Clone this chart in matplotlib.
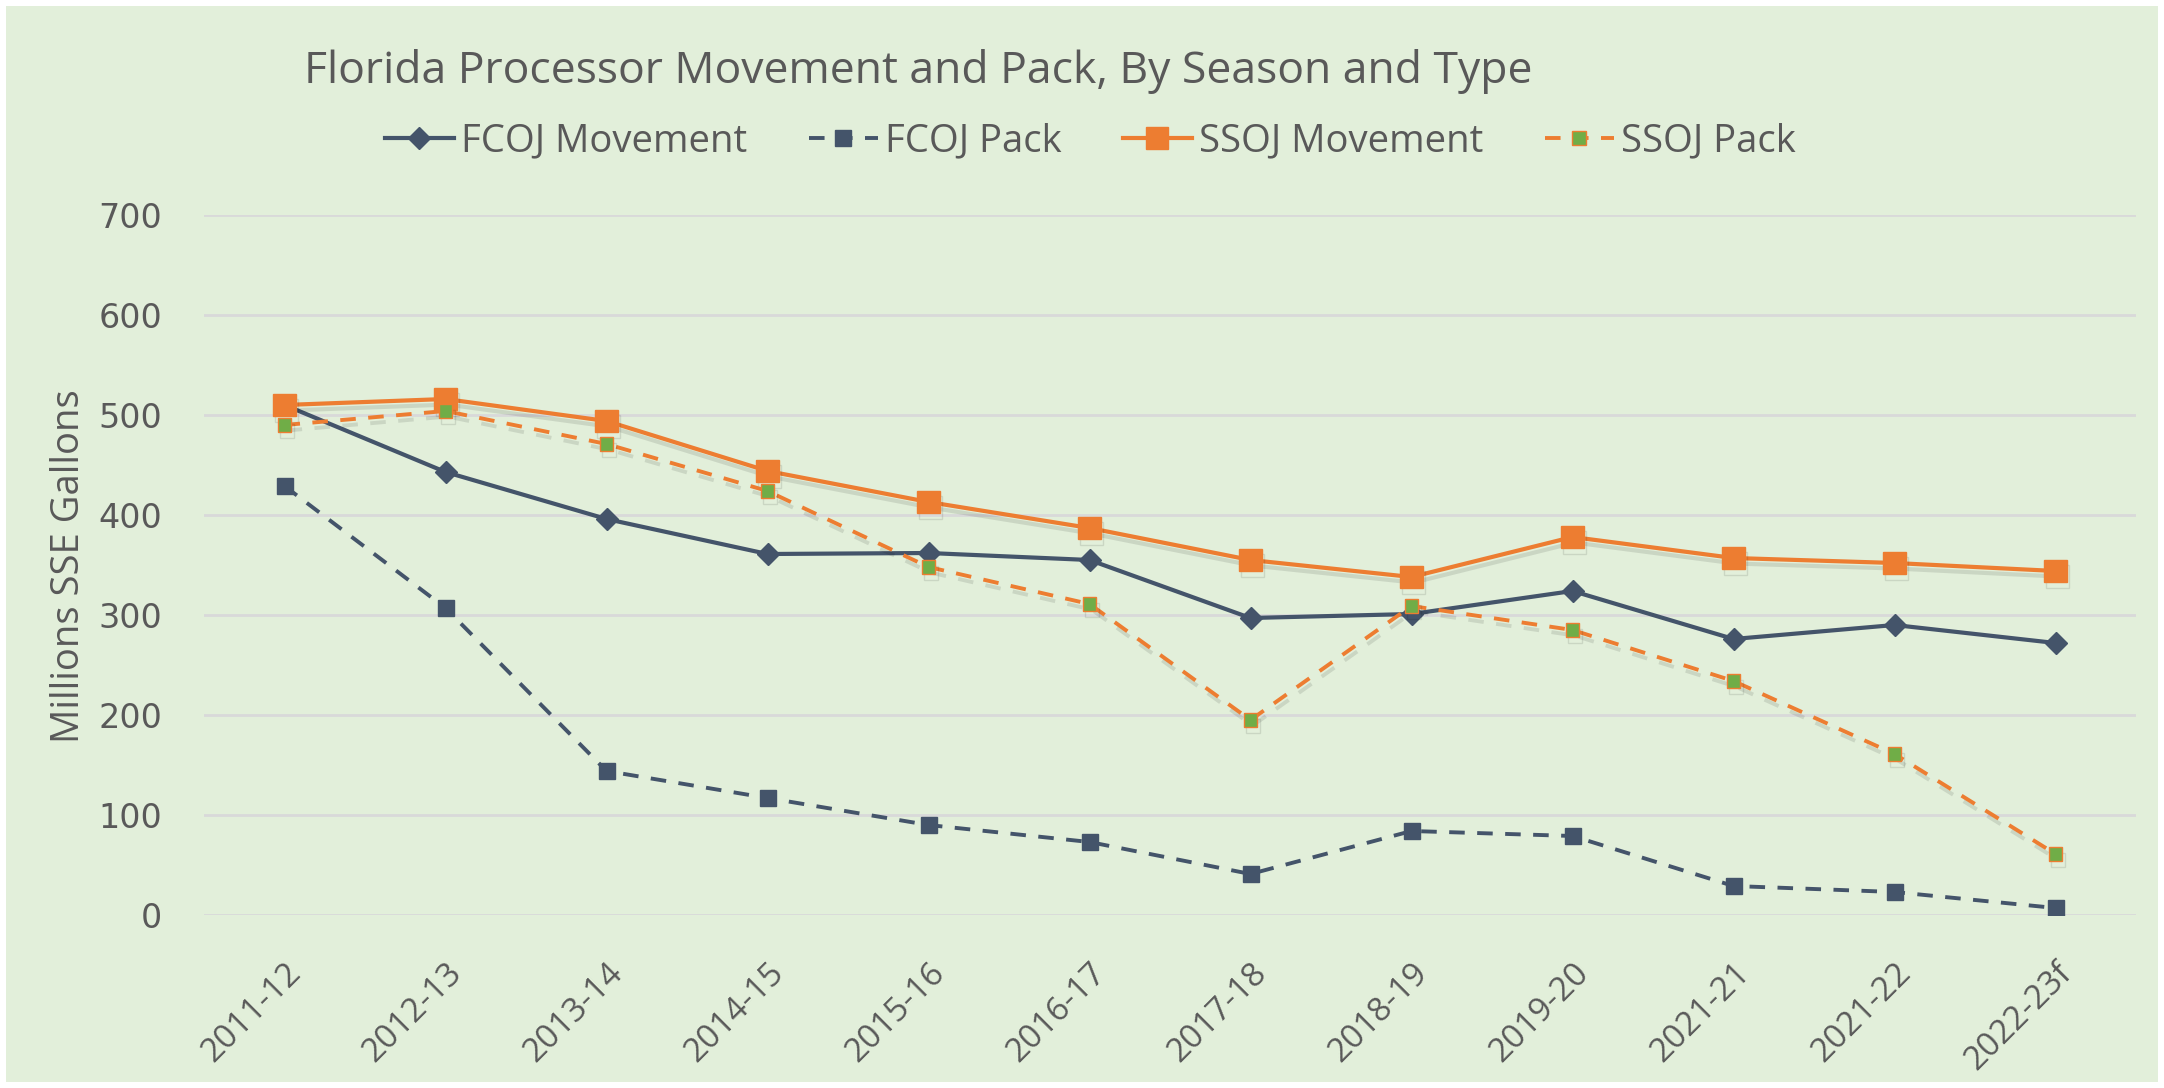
import matplotlib
matplotlib.use("Agg")
import matplotlib.pyplot as plt
import matplotlib.patheffects as pe
from matplotlib.patches import Rectangle

seasons = ["2011-12", "2012-13", "2013-14", "2014-15", "2015-16", "2016-17",
           "2017-18", "2018-19", "2019-20", "2021-21", "2021-22", "2022-23f"]
fcoj_movement = [510, 443, 396, 361, 362, 355, 297, 301, 324, 276, 290, 272]
fcoj_pack = [429, 307, 144, 117, 90, 73, 41, 84, 79, 29, 23, 7]
ssoj_movement = [510, 516, 494, 444, 413, 387, 355, 338, 378, 357, 352, 344]
ssoj_pack = [490, 504, 471, 424, 348, 311, 195, 309, 285, 234, 161, 61]
y_ticks = [0, 100, 200, 300, 400, 500, 600, 700]

bg = "#E2EFDA"
navy = "#44546A"
orange = "#ED7D31"
green = "#70AD47"
txt = "#595959"
font_main = ["Open Sans", "DejaVu Sans"]

fig = plt.figure(figsize=(21.64, 10.88), dpi=100, facecolor="white")
fig.patches.append(Rectangle((6 / 2164, 6 / 1088), 1 - 12 / 2164, 1 - 12 / 1088,
                             transform=fig.transFigure, facecolor=bg,
                             edgecolor="none", zorder=-10))
ax = fig.add_axes([204 / 2164, 1 - 915 / 1088, (2136 - 204) / 2164, 700 / 1088])
ax.set_facecolor("none")

x = list(range(len(seasons)))
shadow = [pe.SimpleLineShadow(offset=(1.5, -4), shadow_color="black", alpha=0.1),
          pe.Normal()]

ax.plot(x, fcoj_movement, color=navy, lw=3, marker="D", ms=11,
        label="FCOJ Movement", zorder=3)
ax.plot(x, fcoj_pack, color=navy, lw=2.8, ls=(0, (4, 3.2)), marker="s", ms=11,
        label="FCOJ Pack", zorder=3)
ax.plot(x, ssoj_movement, color=orange, lw=3, marker="s", ms=16.5,
        label="SSOJ Movement", zorder=4, path_effects=shadow)
ax.plot(x, ssoj_pack, color=orange, lw=2.8, ls=(0, (4, 3.2)), marker="s", ms=10,
        markerfacecolor=green, markeredgecolor=orange, markeredgewidth=1,
        label="SSOJ Pack", zorder=5, path_effects=shadow)

ax.set_xlim(-0.5, len(seasons) - 0.5)
ax.set_ylim(0, 700)
ax.set_yticks(y_ticks)
ax.yaxis.grid(True, color="#D9D9D9", lw=2)
ax.set_axisbelow(True)
for s in ax.spines.values():
    s.set_visible(False)
ax.tick_params(length=0)
ax.tick_params(axis="y", pad=30, labelsize=24, labelcolor=txt)
ax.set_xticks(x)
ax.set_xticklabels(seasons, rotation=45, ha="right", rotation_mode="anchor",
                   fontsize=24, color=txt, family=font_main)
ax.tick_params(axis="x", pad=30)

fig.text(69 / 2164, 1 - 566 / 1088, "Millions SSE Gallons", rotation=90,
         ha="center", va="center", fontsize=27.5, color=txt, family=font_main)
fig.text(304 / 2164, 1 - 72 / 1088,
         "Florida Processor Movement and Pack, By Season and Type",
         ha="left", va="center", fontsize=32, color=txt, family=font_main)

leg = fig.legend(loc="center", bbox_to_anchor=(0.504, 1 - 141 / 1088), ncol=4,
                 frameon=False, handlelength=1.8, handletextpad=0.2,
                 columnspacing=1.6, prop={"family": font_main, "size": 27.5})
for t in leg.get_texts():
    t.set_color(txt)
for h in leg.legend_handles:
    h.set_path_effects([])

fig.savefig("out.png", dpi=100, facecolor=fig.get_facecolor())
